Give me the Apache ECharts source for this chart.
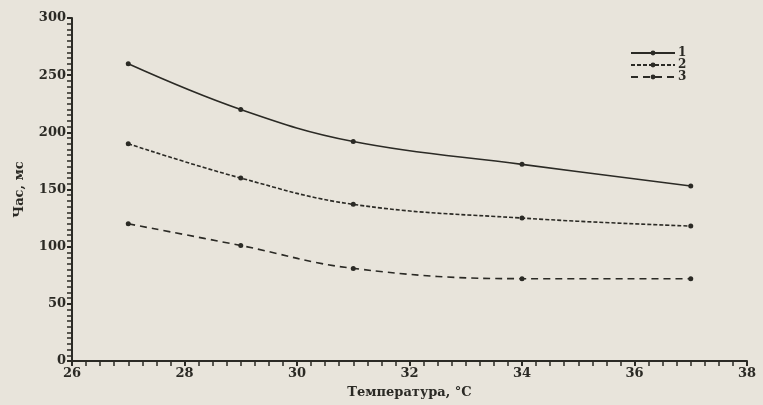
<!DOCTYPE html>
<html><head><meta charset="utf-8">
<script src="https://cdn.jsdelivr.net/npm/echarts@6/dist/echarts.min.js"></script>
<style>html,body{margin:0;padding:0;background:#e8e4db;}#c{width:763px;height:405px;}</style>
</head><body><div id="c"></div>
<script>
const temps = [27, 29, 31, 34, 37];
const series1 = [260, 220, 192, 172, 153];
const series2 = [190, 160, 137, 125, 118];
const series3 = [120, 101, 81, 72, 72];
const seriesNames = ['1', '2', '3'];
const xTicks = [26, 28, 30, 32, 34, 36, 38];
const yTicks = [0, 50, 100, 150, 200, 250, 300];

const ink = '#2b2a25';
const font = 'DejaVu Serif';
function pts(vals){ return temps.map((t,i)=>[t, vals[i]]); }
const styles = [
  {type:'solid', width:1.6},
  {type:[4,2], width:1.6},
  {type:[7,5], width:1.6}
];
const data = [series1, series2, series3];
const chart = echarts.init(document.getElementById('c'));
chart.setOption({
  backgroundColor: '#e8e4db',
  animation: false,
  grid: {left: 72, right: 16, top: 18, bottom: 44},
  legend: {
    left: 625, top: 42, orient: 'vertical', itemWidth: 44, itemHeight: 6, itemGap: 0,
    textStyle: {color: ink, fontFamily: font, fontWeight: 'bold', fontSize: 12, lineHeight: 10, padding: [0,0,0,-2]},
    data: seriesNames
  },
  xAxis: {
    type: 'value', min: xTicks[0], max: xTicks[xTicks.length-1], interval: 2,
    name: 'Температура, °С', nameLocation: 'middle', nameGap: 25,
    nameTextStyle: {color: ink, fontFamily: font, fontWeight: 'bold', fontSize: 13},
    axisLine: {lineStyle: {color: ink, width: 2}},
    axisTick: {lineStyle: {color: ink, width: 2}, length: 5},
    minorTick: {show: true, splitNumber: 8, length: 5, lineStyle: {color: ink, width: 1.5}},
    splitLine: {show: false},
    axisLabel: {color: ink, fontFamily: font, fontWeight: 'bold', fontSize: 13, margin: 6}
  },
  yAxis: {
    type: 'value', min: yTicks[0], max: yTicks[yTicks.length-1], interval: 50,
    name: 'Час, мс', nameLocation: 'middle', nameGap: 46, nameRotate: 90,
    nameTextStyle: {color: ink, fontFamily: font, fontWeight: 'bold', fontSize: 13},
    axisLine: {show: true, lineStyle: {color: ink, width: 2}},
    axisTick: {show: true, lineStyle: {color: ink, width: 2}, length: 5},
    minorTick: {show: true, splitNumber: 10, length: 5, lineStyle: {color: ink, width: 1.5}},
    splitLine: {show: false},
    axisLabel: {color: ink, fontFamily: font, fontWeight: 'bold', fontSize: 13, margin: 6}
  },
  series: data.map((d, i) => ({
    name: seriesNames[i], type: 'line', data: pts(d), smooth: 0.4,
    symbol: 'circle', symbolSize: 5,
    itemStyle: {color: ink},
    lineStyle: Object.assign({color: ink}, styles[i])
  }))
});
</script></body></html>
